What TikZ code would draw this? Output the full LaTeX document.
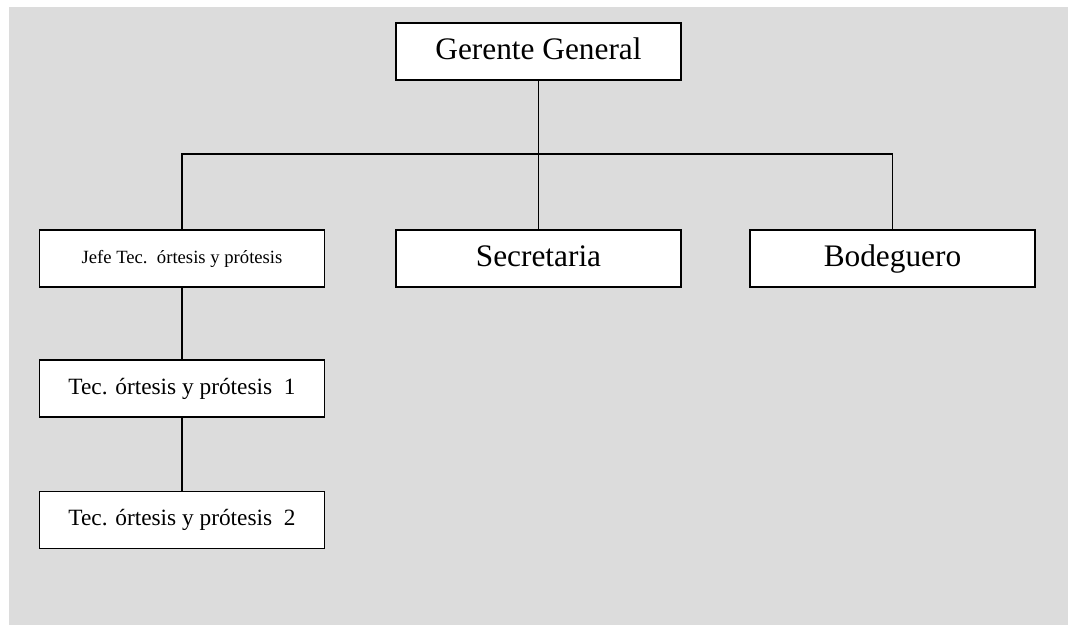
\documentclass[tikz,border=0pt]{standalone}
\usepackage{fontspec}
\setmainfont{Liberation Serif}
\definecolor{sheetgray}{HTML}{DCDCDC}

\begin{document}
\begin{tikzpicture}[x=0.75pt,y=-0.75pt,
  orgbox/.style={draw=black,fill=white,line width=1.1pt,minimum width=213.75pt,minimum height=42.75pt,inner sep=0pt},
  bigtext/.style={font=\fontsize{23.5}{28}\selectfont,text height=16pt,text depth=4.5pt},
  midtext/.style={font=\fontsize{17.5}{21}\selectfont,text height=12pt,text depth=3.4pt},
  smalltext/.style={font=\fontsize{14}{17}\selectfont,text height=9.5pt,text depth=2.7pt},
  orglink/.style={line width=1pt}]
\useasboundingbox (0,0) rectangle (1068,625);
\fill[sheetgray] (9,7) rectangle (1068,625);
\node[orgbox,bigtext] (gerente) at (538.5,51.5) {Gerente General};
\node[orgbox,smalltext] (jefe) at (182,258.5) {Jefe Tec.\ \ órtesis y prótesis};
\node[orgbox,bigtext] (secretaria) at (538.5,258.5) {Secretaria};
\node[orgbox,bigtext] (bodeguero) at (892.5,258.5) {Bodeguero};
\node[orgbox,midtext] (tecuno) at (182,388.5) {Tec. órtesis y prótesis\ \ 1};
\node[orgbox,midtext] (tecdos) at (182,520) {Tec. órtesis y prótesis\ \ 2};
\coordinate (bus) at (538.5,154);
\draw[orglink] (gerente.south) -- (secretaria.north);
\draw[orglink] (jefe.north) |- (bus) -| (bodeguero.north);
\draw[orglink] (jefe.south) -- (tecuno.north);
\draw[orglink] (tecuno.south) -- (tecdos.north);
\end{tikzpicture}
\end{document}
